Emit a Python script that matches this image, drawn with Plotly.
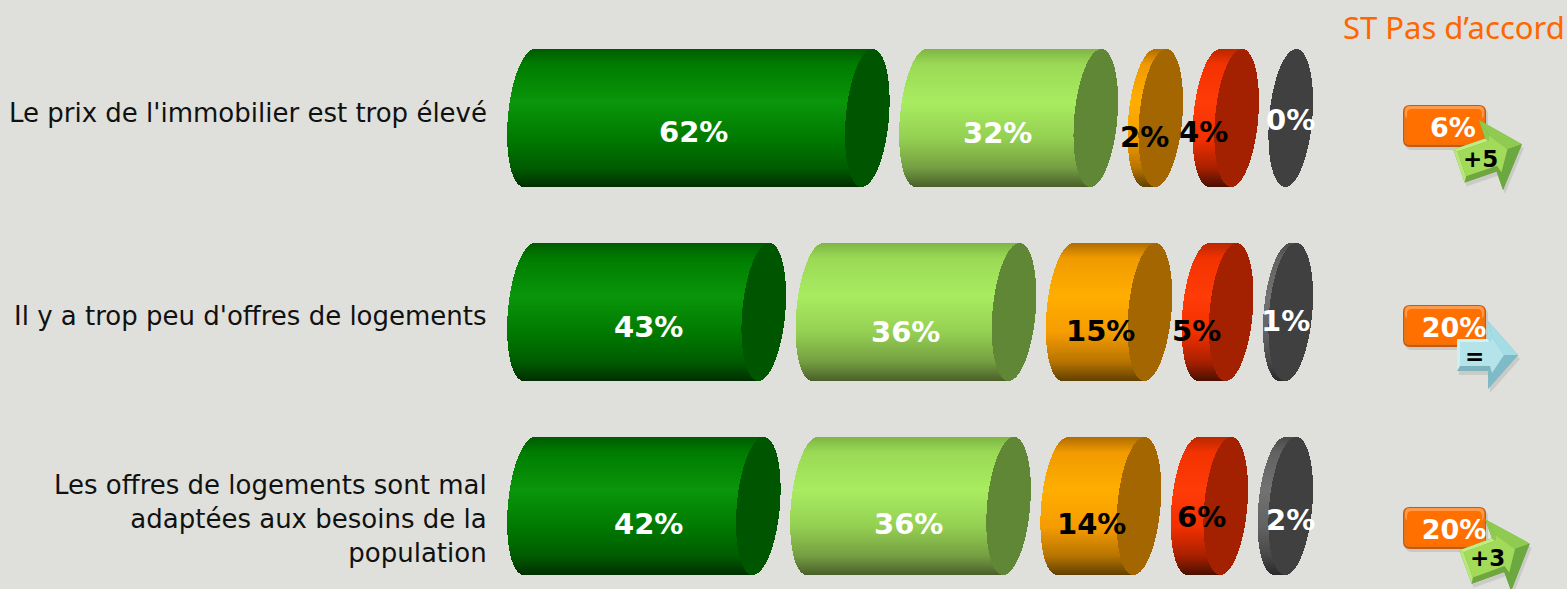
import math
import plotly.graph_objects as go

# ---------- data ----------
questions = ["Le prix de l'immobilier est trop élevé",
             "Il y a trop peu d'offres de logements",
             "Les offres de logements sont mal<br>adaptées aux besoins de la<br>population"]
series_1 = [62, 43, 42]
series_2 = [32, 36, 36]
series_3 = [2, 15, 14]
series_4 = [4, 5, 6]
series_5 = [0, 1, 2]
st_pas_accord = ["6%", "20%", "20%"]
evolution = ["+5", "=", "+3"]
column_title = "ST Pas d’accord"

# ---------- styles / layout ----------
W, H = 1567, 589
BG = "#DFE0DB"
KX, KY = 5.45, 194.0          # pixels per value unit, pixels per row
X0, Y0 = 529.4, 118.0         # pixel of value 0, pixel of row 0
A, S = 21.6, 5.5              # ellipse half-width and shear (pixels)
HW = math.hypot(A, S)
GAP = 9.5
HALF_H = 69
STRIP = 1

GRAD_POS = [-1.0, -0.78, -0.23, 0.3, 0.72, 1.0]
GRADS = [
    ["#005A00", "#007C00", "#0A960A", "#007A00", "#005C00", "#002E00"],
    ["#7FB545", "#9AD955", "#A8EC60", "#94CF52", "#759F42", "#4A5F2A"],
    ["#B06C00", "#F09A00", "#FFAE00", "#F59C00", "#B87400", "#604000"],
    ["#B82800", "#F23200", "#FF3C08", "#F23000", "#A82000", "#4A1000"],
    ["#4A4A4A", "#626262", "#727272", "#626262", "#484848", "#2A2A2A"],
]
CAPS = ["#005500", "#5F8735", "#A36600", "#A32000", "#404040"]
TEXT_COLORS = ["white", "white", "black", "black", "white"]
LABEL_DX = [[-5, -11, -11, -22, 0], [2, -10, -8, -21, -2], [5, -2, -9, -8, 5]]
LABEL_DY = [[14, 15, 19, 14, 2], [15, 20, 19, 19, 9], [18, 18, 18, 11, 14]]
Q_DY = [-5, 4, 13]
FONT = "DejaVu Sans"


def X(px):
    return (px - X0) / KX


def Y(py):
    return (py - Y0) / KY


def mix(stops, t):
    for i in range(len(GRAD_POS) - 1):
        if t <= GRAD_POS[i + 1]:
            f = (t - GRAD_POS[i]) / (GRAD_POS[i + 1] - GRAD_POS[i])
            a, b = stops[i], stops[i + 1]
            ch = [round(int(a[j:j + 2], 16) * (1 - f) + int(b[j:j + 2], 16) * f) for j in (1, 3, 5)]
            return "rgb(%d,%d,%d)" % tuple(ch)
    return stops[-1]


rows = list(zip(series_1, series_2, series_3, series_4, series_5))
bx, bbase, by, bw, bc = [], [], [], [], []
cx, cbase, cy, cw, cc = [], [], [], [], []
annots = []
n_strip = 2 * HALF_H // STRIP
for r, vals in enumerate(rows):
    pos = 0.0
    for s, v in enumerate(vals):
        for k in range(n_strip):
            py = -HALF_H + (k + 0.5) * STRIP
            t = py / HALF_H
            rad = math.sqrt(max(0.0, 1 - t * t))
            off = -S * t / KX
            half = A * rad / KX
            left = pos + off - half
            # body
            bbase.append(left)
            bx.append(v + half)
            by.append(r + py / KY)
            bw.append(STRIP / KY)
            bc.append(mix(GRADS[s], t))
            # flat end
            cbase.append(pos + v + off - half)
            cx.append(2 * half)
            cy.append(r + py / KY)
            cw.append(STRIP / KY)
            cc.append(CAPS[s])
        annots.append(dict(x=pos + v / 2, y=r, xref="x", yref="y",
                           text=f"{v}%", showarrow=False,
                           xshift=LABEL_DX[r][s], yshift=-LABEL_DY[r][s],
                           font=dict(family=FONT, size=29, color=TEXT_COLORS[s]),
                           xanchor="center", yanchor="middle"))
        pos += v + (2 * HW + GAP) / KX

traces = [
    go.Bar(orientation="h", x=bx, base=bbase, y=by, width=bw,
           marker=dict(color=bc, line=dict(width=0)), hoverinfo="skip", showlegend=False),
    go.Bar(orientation="h", x=cx, base=cbase, y=cy, width=cw,
           marker=dict(color=cc, line=dict(width=0)), hoverinfo="skip", showlegend=False),
]

# ---------- question labels ----------
for r, q in enumerate(questions):
    annots.append(dict(x=X(488.5), y=r, xref="x", yref="y", text=q, showarrow=False,
                       yshift=-Q_DY[r], xanchor="right", yanchor="middle", align="right",
                       font=dict(family=FONT, size=26, color="#111111")))

annots.append(dict(x=X(1567), y=Y(27), xref="x", yref="y", text=column_title, showarrow=False,
                   xanchor="right", yanchor="middle",
                   font=dict(family="Noto Sans", size=31, color="#FF6600")))

# ---------- badges ----------
BADGE_TOP = [105, 305, 507]
BADGE_L, BADGE_R, BADGE_H = 1403, 1486, 42


def rr(x0, y0, x1, y1, rad):
    px = lambda x: x / W
    py = lambda y: 1 - y / H
    p = [f"M{px(x0 + rad)},{py(y0)}", f"L{px(x1 - rad)},{py(y0)}",
         f"Q{px(x1)},{py(y0)} {px(x1)},{py(y0 + rad)}", f"L{px(x1)},{py(y1 - rad)}",
         f"Q{px(x1)},{py(y1)} {px(x1 - rad)},{py(y1)}", f"L{px(x0 + rad)},{py(y1)}",
         f"Q{px(x0)},{py(y1)} {px(x0)},{py(y1 - rad)}", f"L{px(x0)},{py(y0 + rad)}",
         f"Q{px(x0)},{py(y0)} {px(x0 + rad)},{py(y0)}", "Z"]
    return " ".join(p)


shapes = []
for top in BADGE_TOP:
    for path, col in [
        (rr(BADGE_L + 2, top + 3, BADGE_R + 2, top + BADGE_H + 3, 7), "rgba(0,0,0,0.10)"),
        (rr(BADGE_L, top, BADGE_R, top + BADGE_H, 7), "#C45A10"),
        (rr(BADGE_L + 1, top + 1, BADGE_R - 1, top + BADGE_H - 2, 6), "#F0720F"),
        (rr(BADGE_L + 2, top + 1, BADGE_R - 2, top + 14, 5), "#FF9A4A"),
        (rr(BADGE_L + 4, top + 4, BADGE_R - 4, top + BADGE_H - 4, 5), "#FF7000"),
    ]:
        shapes.append(dict(type="path", path=path, xref="paper", yref="paper",
                           fillcolor=col, line=dict(width=0), layer="below"))

traces.append(go.Scatter(
    x=[X(1453), X(1454), X(1454)], y=[Y(130), Y(330), Y(532)],
    mode="text", text=st_pas_accord, textposition="middle center",
    textfont=dict(family=FONT, size=27, color="white", weight="bold"),
    hoverinfo="skip", showlegend=False))

# ---------- arrows ----------
# tail centre (px), angle (deg, positive = up), scale
ARROWS = [(1459, 166, 19, 1.09), (1457, 355, 0, 1.0), (1465.5, 567, 20, 1.12)]
DELTA_POS = [(1480, 159), (1474, 356), (1487, 558)]
GREEN = dict(face="#A2DB5A", top="#C0EC85", bot="#6FA63F", tiptop="#8FCB50", tipbot="#6BA83F", edge="#B8E878")
BLUE = dict(face="#B4E4EA", top="#D2F1F5", bot="#7FB4BF", tiptop="#A5DDE5", tipbot="#7FBBC6", edge="#CDEFF3")
OUTER = [(0, -16), (31, -16), (31, -34), (61, 0), (31, 34), (31, 16), (0, 16)]
INNER = [(3, -13), (33, -13), (35, -18), (47, 0), (35, 18), (33, 11), (3, 11)]


def place(pts, ox, oy, ang, sc):
    a = math.radians(ang)
    out = []
    for lx, ly in pts:
        lx, ly = lx * sc, ly * sc
        out.append((ox + lx * math.cos(a) + ly * math.sin(a),
                    oy - lx * math.sin(a) + ly * math.cos(a)))
    return out


def poly(pts, col):
    xs = [X(p[0]) for p in pts] + [X(pts[0][0])]
    ys = [Y(p[1]) for p in pts] + [Y(pts[0][1])]
    return go.Scatter(x=xs, y=ys, mode="lines", fill="toself", fillcolor=col,
                      line=dict(width=0, color=col), hoverinfo="skip", showlegend=False)


for (ox, oy, ang, sc), lab in zip(ARROWS, evolution):
    pal = BLUE if lab == "=" else GREEN
    outer = place(OUTER, ox, oy, ang, sc)
    inner = place(INNER, ox, oy, ang, sc)
    traces.append(poly([(x + 2, y + 4) for x, y in outer], "rgba(0,0,0,0.09)"))
    traces.append(poly(outer, pal["bot"]))
    n = len(outer)
    facet_cols = [pal["top"], pal["tiptop"], pal["tiptop"], pal["tipbot"], pal["tipbot"], pal["bot"]]
    for i in range(n - 1):
        traces.append(poly([outer[i], outer[i + 1], inner[i + 1], inner[i]], facet_cols[i]))
    traces.append(poly([outer[-1], outer[0], inner[0], inner[-1]], pal["edge"]))
    traces.append(poly(inner, pal["face"]))

for (px, py), lab in zip(DELTA_POS, evolution):
    annots.append(dict(x=X(px), y=Y(py), xref="x", yref="y", text=lab, showarrow=False,
                       xanchor="center", yanchor="middle",
                       font=dict(family=FONT, size=23, color="black")))

for a in annots:
    if a["text"].endswith("%") or a["text"] in evolution:
        a["text"] = f"<b>{a['text']}</b>"

fig = go.Figure(traces)
fig.update_layout(
    width=W, height=H, margin=dict(l=0, r=0, t=0, b=0, pad=0),
    paper_bgcolor=BG, plot_bgcolor=BG, barmode="overlay", bargap=0,
    xaxis=dict(range=[X(0), X(W)], visible=False, fixedrange=True),
    yaxis=dict(range=[Y(H), Y(0)], visible=False, fixedrange=True),
    annotations=annots, shapes=shapes, showlegend=False, hovermode=False,
)
fig.write_html("out.html", config=dict(displayModeBar=False),
               post_script="document.body.style.margin='0';document.body.style.background='%s';" % BG)
